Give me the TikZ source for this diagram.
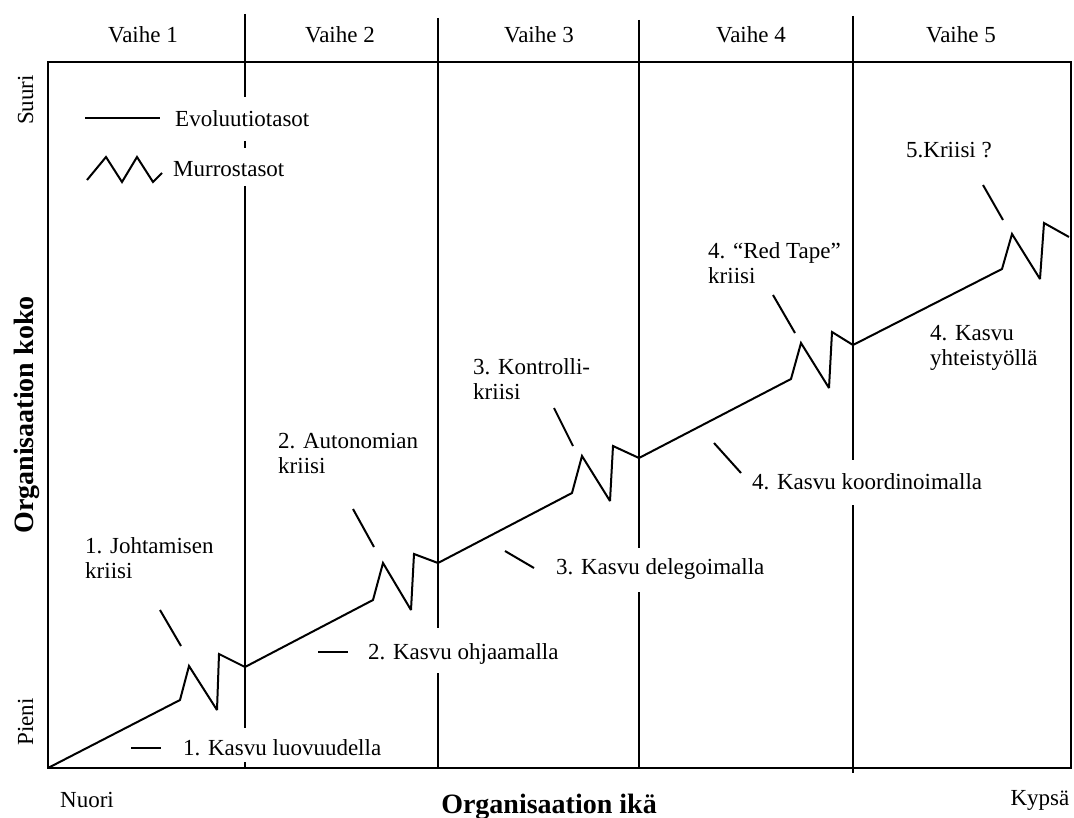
\documentclass[tikz,border=0pt]{standalone}
\usepackage{fontspec}
\setmainfont{Liberation Serif}
\begin{document}
\begin{tikzpicture}[x=1pt,y=-1pt,
  every node/.style={inner sep=0pt, font=\fontsize{23}{25}\selectfont},
  lbl/.style={anchor=base west},
  lbltwo/.style={anchor=north west, align=left},
  phase/.style={anchor=base},
  axisname/.style={font=\fontsize{28}{30}\selectfont\bfseries},
  rule/.style={line width=1.8pt},
  growth/.style={line width=2pt, line join=miter, miter limit=3},
  pointer/.style={line width=2pt}]
\useasboundingbox (0,0) rectangle (1074,818);

% frame of the chart
\draw[rule] (48,62) -- (1071,62) -- (1071,768) -- (48,768) -- cycle;

% phase dividers, broken where labels cross them
\draw[rule] (245,14) -- (245,97) (245,141) -- (245,148) (245,186) -- (245,728) (245,762) -- (245,768);
\draw[rule] (438,18) -- (438,628) (438,673) -- (438,768);
\draw[rule] (639,20) -- (639,548) (639,592) -- (639,768);
\draw[rule] (853,16) -- (853,460) (853,505) -- (853,773);

% phase headings
\node[phase] (v1) at (143,43) {Vaihe 1};
\node[phase] (v2) at (340,43) {Vaihe 2};
\node[phase] (v3) at (539,43) {Vaihe 3};
\node[phase] (v4) at (751,43) {Vaihe 4};
\node[phase] (v5) at (961,43) {Vaihe 5};

% legend
\draw[pointer] (85,118) -- (160,118);
\node[lbl] (evo) at (175,127) {Evoluutiotasot};
\draw[pointer, line join=miter, miter limit=3] (87,180) -- (106,157) -- (122,182) -- (137,157) -- (153,182) -- (162,173);
\node[lbl] (murr) at (173,177) {Murrostasot};

% growth curve: evolution lines and revolution zigzags
\draw[growth] (48,768) -- (180,700) -- (189,666) -- (217,710) -- (219,654) -- (245,667)
  -- (373,600) -- (383,563) -- (411,610) -- (414,554) -- (438,563)
  -- (572,493) -- (582,456) -- (610,501) -- (613,446) -- (639,458)
  -- (791,379) -- (801,343) -- (829,388) -- (832,332) -- (853,345)
  -- (1002,269) -- (1012,234) -- (1040,279) -- (1044,223) -- (1069,237);

% crisis labels and their pointers
\node[lbltwo] (k1) at (85,537) {1. Johtamisen\\kriisi};
\draw[pointer] (160,610) -- (181,646);
\node[lbltwo] (k2) at (278,433) {2. Autonomian\\kriisi};
\draw[pointer] (353,509) -- (374,547);
\node[lbltwo] (k3) at (473,358) {3. Kontrolli-\\kriisi};
\draw[pointer] (554,408) -- (573,446);
\node[lbltwo] (k4) at (708,242) {4. “Red Tape”\\kriisi};
\draw[pointer] (773,295) -- (795,333);
\node[lbl] (k5) at (906,158) {5.Kriisi ?};
\draw[pointer] (983,185) -- (1003,220);

% growth labels and their pointers
\node[lbl] (g1) at (183,755) {1. Kasvu luovuudella};
\draw[pointer] (131,748) -- (161,748);
\node[lbl] (g2) at (368,659) {2. Kasvu ohjaamalla};
\draw[pointer] (318,652) -- (348,652);
\node[lbl] (g3) at (556,574) {3. Kasvu delegoimalla};
\draw[pointer] (505,551) -- (534,568);
\node[lbl] (g4) at (752,489) {4. Kasvu koordinoimalla};
\draw[pointer] (714,443) -- (741,473);
\node[lbltwo] (g5) at (930,325) {4. Kasvu\\yhteistyöllä};

% axes
\node[phase, rotate=90] (suuri) at (33,100) {Suuri};
\node[phase, rotate=90] (pieni) at (33,722) {Pieni};
\node[phase, rotate=90, axisname] (koko) at (34,415) {Organisaation koko};
\node[phase] (nuori) at (87,807) {Nuori};
\node[phase] (kypsa) at (1040,805) {Kypsä};
\node[phase, axisname] (ika) at (549,813) {Organisaation ikä};
\end{tikzpicture}
\end{document}
